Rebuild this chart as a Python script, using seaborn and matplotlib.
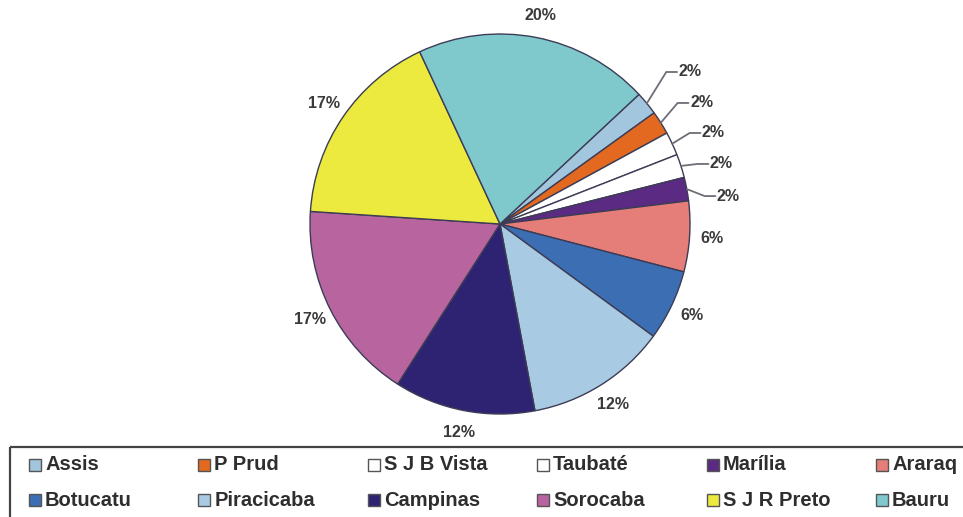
import matplotlib
matplotlib.use("Agg")
import numpy as np
import matplotlib.pyplot as plt
from matplotlib.patches import Rectangle
import seaborn as sns

# Share of records by regional office (%)
categories = ["Assis", "P Prud", "S J B Vista", "Taubaté", "Marília", "Araraq",
              "Botucatu", "Piracicaba", "Campinas", "Sorocaba", "S J R Preto", "Bauru"]
shares = [2, 2, 2, 2, 2, 6, 6, 12, 12, 17, 17, 20]
colors = ["#a3c6df", "#e2691f", "#ffffff", "#ffffff", "#5b2a82", "#e57d78",
          "#3b6eb2", "#a9cae3", "#2d2372", "#b8659f", "#ecea3e", "#7fc9cd"]

sns.set_theme(style="white")
plt.rcParams["font.family"] = ["Liberation Sans", "DejaVu Sans"]

W, H = 963, 517
CX, CY, R = 500, 224, 190          # pie centre and radius in pixels


def px(x, y):
    """Pixel position (origin top-left) to data units of the pie axes."""
    return (x - CX) / R, (CY - y) / R


fig = plt.figure(figsize=(W / 100, H / 100), dpi=100)
ax = fig.add_axes([0, 0, 1, 1])

wedges, _ = ax.pie(shares, colors=colors, startangle=90 - 47, counterclock=False,
                   radius=1, wedgeprops=dict(edgecolor="#3c3c55", linewidth=1.0))
ax.set_aspect("auto")
ax.set_xlim(px(0, 0)[0], px(W, 0)[0])
ax.set_ylim(px(0, H)[1], px(0, 0)[1])
ax.axis("off")

label_kw = dict(fontsize=11.5, fontweight="bold", color="#3a3a3a")

# text positions for the thin slices, stacked on the right with leader lines
small_label_pos = [(0.94, 0.80), (1.0, 0.637), (1.063, 0.479), (1.105, 0.316), (1.142, 0.147)]
small_idx = 0
for w, v in zip(wedges, shares):
    mid = np.deg2rad((w.theta1 + w.theta2) / 2)
    cx, cy = np.cos(mid), np.sin(mid)
    if v < 5:
        tx, ty = small_label_pos[small_idx]
        small_idx += 1
        ax.plot([cx, tx - 0.065, tx - 0.008], [cy, ty, ty],
                color="#6e6e78", lw=1.3, solid_joinstyle="miter")
        ax.text(tx, ty, f"{v}%", ha="left", va="center", **label_kw)
    else:
        ax.text(1.12 * cx, 1.12 * cy, f"{v}%", ha="center", va="center", **label_kw)

# legend frame (runs off the bottom and right edge)
x0, y0 = px(10, 447)
ax.add_patch(Rectangle((x0, y0), 10, -5, fill=False, edgecolor="#444444",
                       lw=1.6, clip_on=False))

# legend entries on an even grid, two rows of six
for k, (name, col) in enumerate(zip(categories, colors)):
    row, c = divmod(k, 6)
    mx = 29 + 169.4 * c
    my = 465 + 35 * row
    sx, sy = px(mx, my + 6)
    ax.add_patch(Rectangle((sx, sy), 12 / R, 12 / R, facecolor=col,
                           edgecolor="#555555", lw=1.0, clip_on=False))
    tx, ty = px(mx + 16, my)
    ax.text(tx, ty, name, ha="left", va="center", fontsize=14.5,
            fontweight="bold", color="#2e2e2e")

fig.savefig("out.png", dpi=100)
